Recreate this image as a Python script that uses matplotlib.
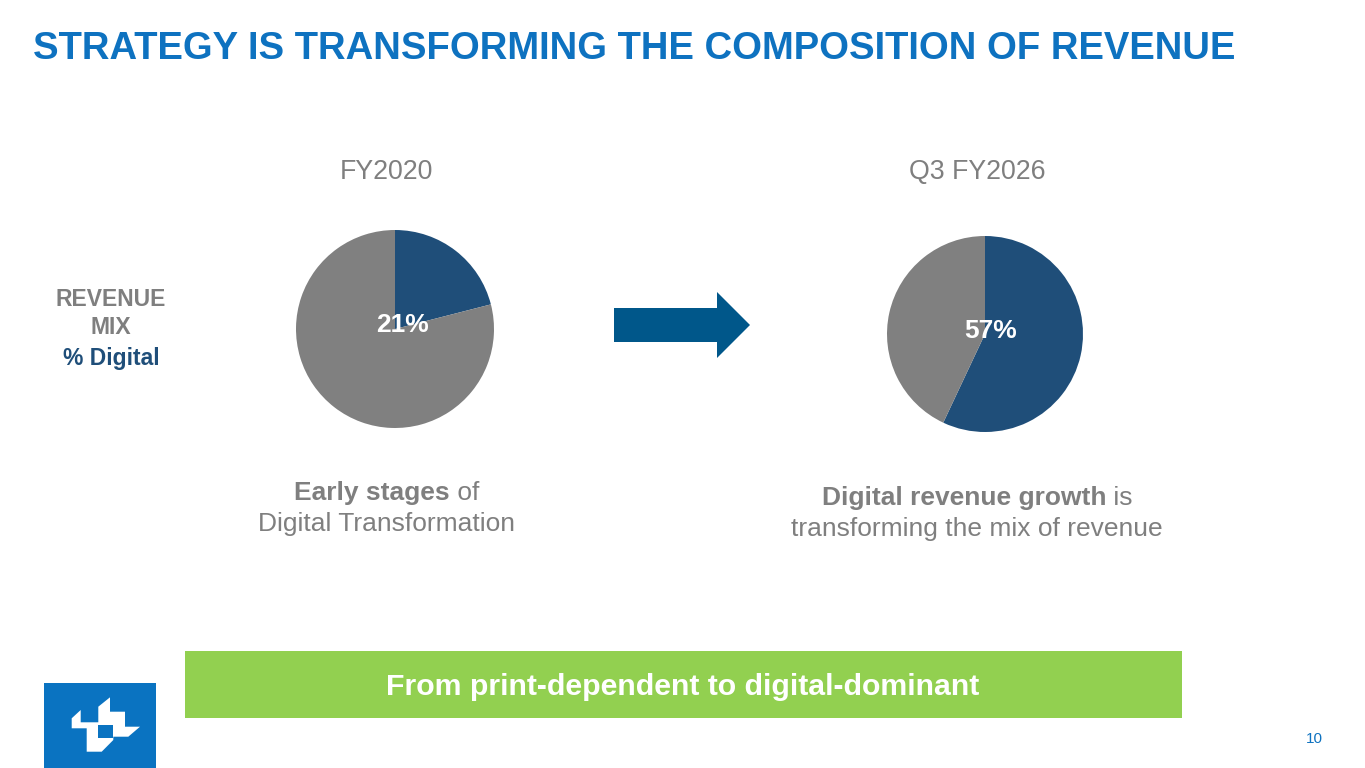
import matplotlib
matplotlib.use("Agg")
import matplotlib.pyplot as plt
from matplotlib.patches import Rectangle, Polygon

plt.rcParams['font.family'] = ['Liberation Sans', 'DejaVu Sans']

# ---- data ----
periods = ["FY2020", "Q3 FY2026"]
digital_pct = [21, 57]
title = "STRATEGY IS TRANSFORMING THE COMPOSITION OF REVENUE"
banner = "From print-dependent to digital-dominant"
captions = [
    [[("Early stages", True), (" of", False)], [("Digital Transformation", False)]],
    [[("Digital revenue growth", True), (" is", False)], [("transforming the mix of revenue", False)]],
]

W, H = 1365, 768
DIGITAL = "#1F4E79"
PRINT = "#808080"
TITLE_BLUE = "#0E72C0"
GRAY_TXT = "#7F7F7F"

fig = plt.figure(figsize=(W / 100, H / 100), dpi=100)
ax = fig.add_axes([0, 0, 1, 1])
ax.set_xlim(0, W)
ax.set_ylim(H, 0)
ax.axis("off")

# title
ax.text(33, 49, title, color=TITLE_BLUE, fontsize=27.5, fontweight="bold",
        ha="left", va="center")

# left labels
ax.text(111, 300, "REVENUE", color=GRAY_TXT, fontsize=16.5, fontweight="bold", ha="center", va="center")
ax.text(111, 327, "MIX", color=GRAY_TXT, fontsize=16.5, fontweight="bold", ha="center", va="center")
ax.text(111, 359, "% Digital", color=DIGITAL, fontsize=16.5, fontweight="bold", ha="center", va="center")

# pies
pie_geom = [(395, 329, 99), (985, 334, 98)]
label_pos = [(0.075, 0.04), (0.06, 0.03)]
header_x = [386, 977]
for (cx, cy, r), period, pct, lp, hx in zip(pie_geom, periods, digital_pct, label_pos, header_x):
    pax = fig.add_axes([(cx - r) / W, (H - cy - r) / H, 2 * r / W, 2 * r / H])
    pax.pie([pct, 100 - pct], colors=[DIGITAL, PRINT], startangle=90,
            counterclock=False, radius=1,
            wedgeprops=dict(linewidth=0))
    pax.set_xlim(-1, 1)
    pax.set_ylim(-1, 1)
    pax.set_aspect("auto")
    pax.axis("off")
    pax.text(lp[0], lp[1], f"{pct}%", color="white", fontsize=19, fontweight="bold",
             ha="center", va="center")
    ax.text(hx, 172, period, color=GRAY_TXT, fontsize=19.3, ha="center", va="center")

# arrow
arrow = Polygon([(614, 308), (717, 308), (717, 292), (750, 325), (717, 358),
                 (717, 342), (614, 342)], closed=True, facecolor="#00578A", edgecolor="none")
ax.add_patch(arrow)

# captions with mixed weights
fig.canvas.draw()
renderer = fig.canvas.get_renderer()


def mixed_line(xc, yc, segs, size=19, color=GRAY_TXT):
    widths = []
    for s, b in segs:
        t = ax.text(0, 0, s, fontsize=size, fontweight="bold" if b else "normal")
        widths.append(t.get_window_extent(renderer).width)
        t.remove()
    x = xc - sum(widths) / 2
    for (s, b), w in zip(segs, widths):
        ax.text(x, yc, s, fontsize=size, fontweight="bold" if b else "normal",
                color=color, ha="left", va="center")
        x += w


caption_pos = [(387, [493, 524]), (977, [498, 529])]
for (xc, ys), lines in zip(caption_pos, captions):
    for y, segs in zip(ys, lines):
        mixed_line(xc, y, segs)

# banner
ax.add_patch(Rectangle((185, 651), 997, 67, facecolor="#92D050", edgecolor="none"))
ax.text(683, 687, banner, color="white", fontsize=21.8, fontweight="bold",
        ha="center", va="center")

# logo
ax.add_patch(Rectangle((44, 683), 112, 90, facecolor="#0A73C1", edgecolor="none"))
logo = Polygon([(71.7, 718.3), (80.7, 710), (80.7, 722.3), (98.3, 722.3), (98.3, 706.7),
                (110, 697.3), (110, 711.7), (125, 711.7), (125, 726.7), (140, 726.7),
                (128.3, 736.7), (113.3, 736.7), (113.3, 740), (101.7, 751.7),
                (86.7, 751.7), (86.7, 728.3), (71.7, 728.3)],
               closed=True, facecolor="white", edgecolor="none")
ax.add_patch(logo)
ax.add_patch(Rectangle((98.3, 725), 15, 13.3, facecolor="#0A73C1", edgecolor="none"))

# page number
ax.text(1314, 739, "10", color=TITLE_BLUE, fontsize=11, ha="center", va="center")

fig.savefig("out.png", dpi=100)
